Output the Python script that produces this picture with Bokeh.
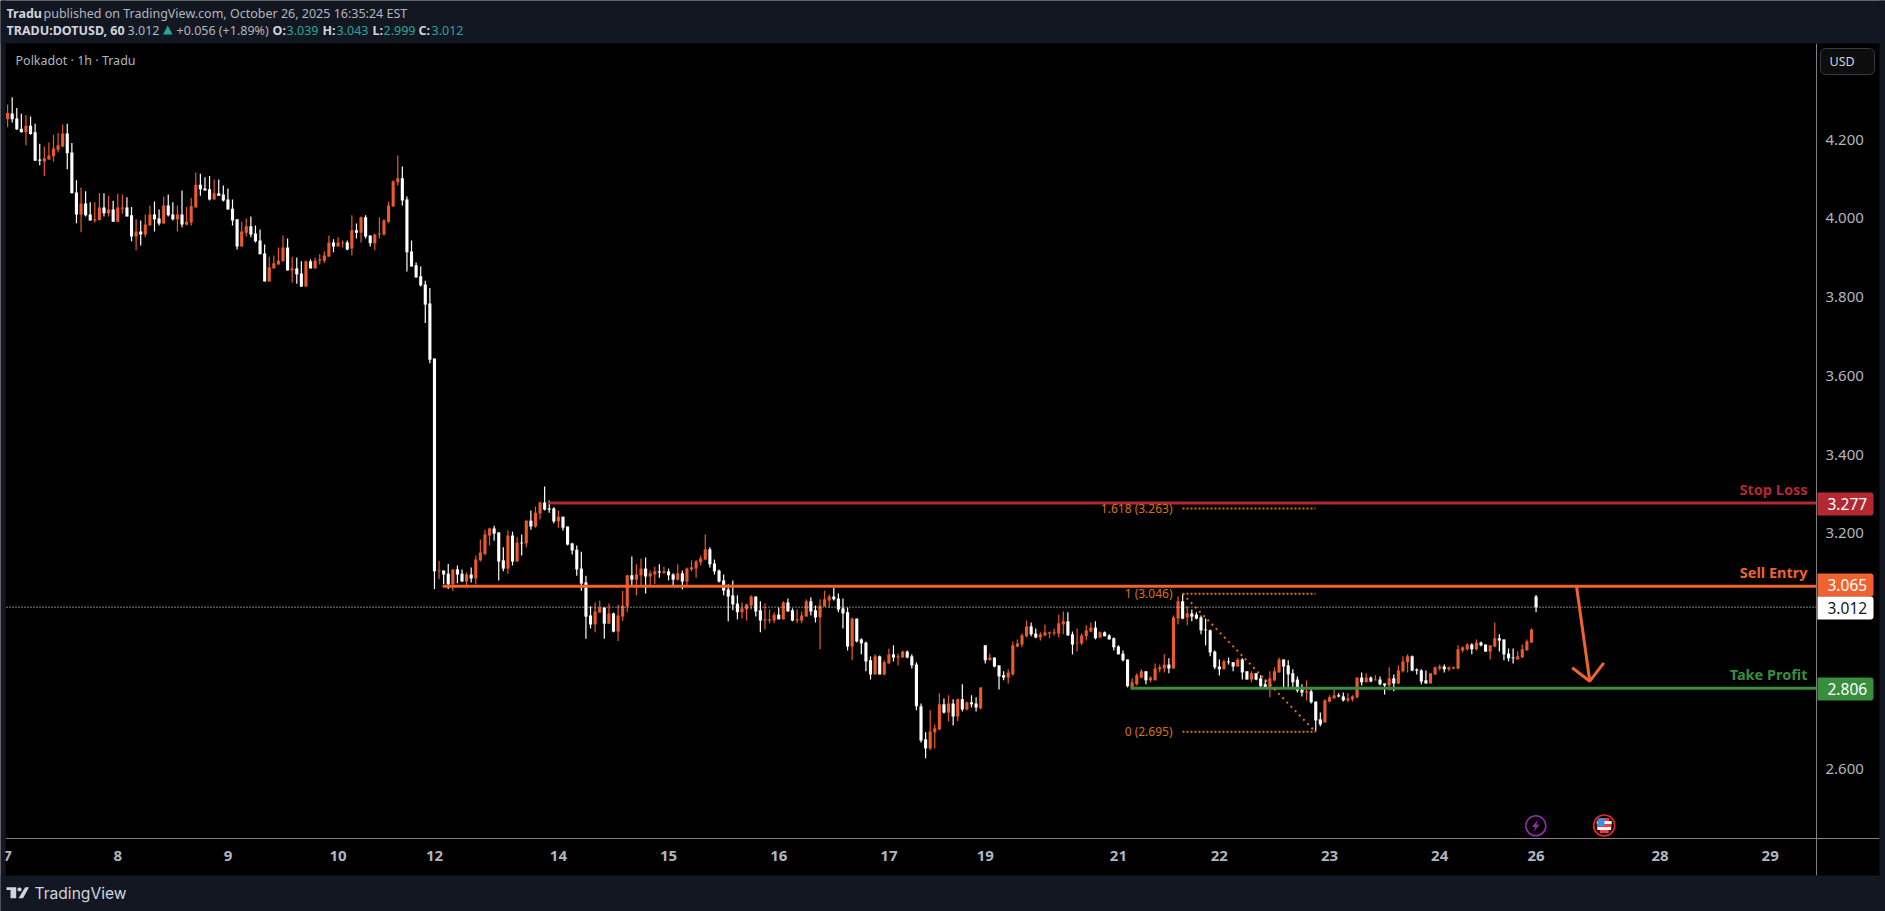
from bokeh.embed import file_html
from bokeh.resources import INLINE
from bokeh.plotting import figure
from bokeh.models import (ColumnDataSource, LinearAxis, FixedTicker, Range1d, Label, BoxAnnotation,
                          PolyAnnotation, NumeralTickFormatter)

opens = [
4.252,4.267,4.254,4.228,4.219,4.236,4.219,4.150,4.145,4.150,
4.158,4.175,4.183,4.216,4.168,4.066,4.010,4.038,4.010,3.995,
3.996,4.028,4.013,4.023,3.992,4.025,4.028,4.008,3.954,3.967,
3.959,3.982,4.010,4.000,3.987,4.033,4.010,3.998,4.010,3.985,
3.990,4.028,4.086,4.076,4.074,4.048,4.064,4.061,4.048,4.025,
3.998,3.929,3.964,3.980,3.962,3.944,3.911,3.840,3.873,3.883,
3.891,3.926,3.868,3.873,3.860,3.827,3.891,3.873,3.893,3.893,
3.903,3.939,3.929,3.937,3.939,3.924,3.970,3.964,4.003,3.957,
3.937,3.959,3.959,3.992,4.031,4.092,4.102,4.048,3.916,3.881,
3.853,3.832,3.784,3.644,3.103,3.105,3.097,3.070,3.108,3.097,
3.077,3.095,3.085,3.131,3.147,3.194,3.212,3.202,3.131,3.110,
3.194,3.128,3.176,3.174,3.232,3.217,3.250,3.278,3.263,3.263,
3.230,3.242,3.217,3.174,3.158,3.110,3.075,2.991,2.968,2.998,
3.011,2.970,2.996,2.950,2.988,3.014,3.093,3.082,3.093,3.110,
3.090,3.095,3.103,3.098,3.103,3.095,3.082,3.098,3.077,3.108,
3.110,3.126,3.133,3.159,3.123,3.105,3.080,3.057,3.042,3.021,
2.999,3.006,3.016,3.039,3.004,2.978,2.978,2.978,2.993,2.981,
3.024,3.004,2.978,2.978,2.988,3.027,3.004,2.986,3.014,3.029,
3.039,3.034,3.009,2.999,2.912,2.983,2.930,2.922,2.877,2.841,
2.887,2.841,2.869,2.892,2.884,2.884,2.899,2.887,2.866,2.760,
2.676,2.653,2.694,2.701,2.765,2.744,2.767,2.734,2.778,2.752,
2.770,2.767,2.755,2.915,2.877,2.884,2.864,2.839,2.833,2.841,
2.912,2.917,2.938,2.963,2.945,2.935,2.940,2.945,2.945,2.945,
2.968,2.976,2.943,2.920,2.920,2.938,2.950,2.960,2.935,2.948,
2.940,2.933,2.912,2.894,2.879,2.808,2.816,2.833,2.849,2.826,
2.826,2.854,2.856,2.866,2.856,2.983,3.027,2.986,2.996,2.993,
2.986,2.955,2.953,2.899,2.861,2.854,2.874,2.872,2.861,2.879,
2.849,2.828,2.844,2.831,2.816,2.806,2.826,2.846,2.879,2.864,
2.844,2.828,2.803,2.795,2.798,2.772,2.727,2.719,2.772,2.780,
2.788,2.785,2.775,2.778,2.783,2.833,2.821,2.833,2.826,2.828,
2.818,2.813,2.831,2.818,2.849,2.872,2.887,2.854,2.851,2.826,
2.818,2.841,2.856,2.861,2.854,2.856,2.856,2.902,2.905,2.917,
2.905,2.922,2.917,2.899,2.912,2.933,2.930,2.894,2.884,2.879,2.884,2.902,2.922,3.039]
highs = [
4.290,4.308,4.281,4.266,4.263,4.259,4.241,4.190,4.183,4.193,
4.213,4.217,4.239,4.241,4.192,4.097,4.079,4.069,4.041,4.041,
4.065,4.064,4.058,4.045,4.063,4.061,4.054,4.029,3.998,3.995,
4.010,4.033,4.043,4.023,4.056,4.061,4.041,4.033,4.071,4.029,
4.053,4.117,4.114,4.105,4.108,4.099,4.099,4.084,4.076,4.048,
3.998,3.992,4.000,4.005,3.982,3.972,3.934,3.903,3.906,3.926,
3.957,3.949,3.903,3.901,3.891,3.893,3.896,3.901,3.909,3.917,
3.957,3.947,3.952,3.944,3.944,4.008,3.987,4.005,4.008,3.957,
3.961,4.003,3.998,4.043,4.097,4.160,4.132,4.056,3.944,3.888,
3.878,3.842,3.823,3.644,3.130,3.105,3.122,3.108,3.118,3.108,
3.100,3.113,3.143,3.184,3.209,3.214,3.219,3.202,3.164,3.207,
3.204,3.191,3.197,3.232,3.258,3.268,3.280,3.319,3.283,3.266,
3.258,3.242,3.217,3.176,3.169,3.153,3.092,3.014,3.024,3.029,
3.011,3.021,2.998,3.018,3.053,3.093,3.141,3.121,3.136,3.138,
3.105,3.115,3.121,3.115,3.110,3.098,3.121,3.105,3.113,3.131,
3.132,3.143,3.197,3.164,3.133,3.108,3.095,3.070,3.080,3.042,
3.024,3.021,3.042,3.039,3.027,3.021,3.006,2.999,3.011,3.027,
3.034,3.009,3.006,3.001,3.032,3.037,3.016,3.032,3.054,3.044,
3.062,3.047,3.034,3.011,2.986,2.983,2.933,2.925,2.887,2.892,
2.889,2.877,2.907,2.915,2.894,2.902,2.902,2.892,2.872,2.767,
2.694,2.750,2.714,2.793,2.780,2.788,2.778,2.780,2.816,2.772,
2.788,2.783,2.808,2.915,2.894,2.884,2.864,2.849,2.854,2.925,
2.930,2.945,2.978,2.973,2.958,2.948,2.968,2.950,2.958,2.993,
3.001,2.999,2.950,2.958,2.945,2.966,2.973,2.976,2.950,2.950,
2.943,2.935,2.915,2.902,2.879,2.831,2.844,2.854,2.849,2.836,
2.869,2.866,2.892,2.882,2.991,3.039,3.044,3.014,3.006,2.999,
2.991,2.983,2.955,2.902,2.879,2.879,2.884,2.872,2.882,2.882,
2.849,2.849,2.844,2.839,2.828,2.849,2.859,2.884,2.879,2.877,
2.854,2.836,2.816,2.826,2.808,2.772,2.744,2.778,2.788,2.803,
2.793,2.795,2.793,2.788,2.833,2.846,2.844,2.836,2.839,2.836,
2.818,2.859,2.841,2.864,2.887,2.892,2.889,2.856,2.854,2.851,
2.844,2.861,2.866,2.866,2.861,2.861,2.915,2.912,2.920,2.920,
2.930,2.925,2.917,2.915,2.973,2.943,2.930,2.907,2.907,2.899,2.917,2.930,2.958,3.043]
lows = [
4.232,4.244,4.225,4.219,4.186,4.213,4.147,4.135,4.108,4.149,
4.145,4.168,4.181,4.125,4.064,3.988,3.965,4.005,3.995,3.989,
3.995,4.005,4.005,3.992,3.991,4.012,4.005,3.942,3.919,3.931,
3.953,3.982,3.967,3.982,3.987,4.005,3.995,3.967,3.978,3.982,
3.982,4.028,4.058,4.071,4.046,4.048,4.058,4.043,4.023,3.982,
3.921,3.929,3.954,3.952,3.939,3.909,3.840,3.840,3.873,3.883,
3.891,3.868,3.837,3.834,3.826,3.827,3.873,3.873,3.883,3.887,
3.903,3.914,3.929,3.926,3.919,3.906,3.949,3.939,3.949,3.929,
3.919,3.949,3.957,3.988,4.029,4.084,4.033,3.865,3.878,3.850,
3.827,3.734,3.632,3.058,3.083,3.070,3.058,3.053,3.073,3.077,
3.067,3.075,3.070,3.128,3.143,3.169,3.181,3.080,3.103,3.097,
3.118,3.128,3.143,3.164,3.209,3.214,3.235,3.258,3.252,3.225,
3.214,3.207,3.169,3.146,3.092,3.054,2.932,2.958,2.948,2.998,
2.932,2.970,2.948,2.926,2.977,2.999,3.067,3.042,3.067,3.047,
3.067,3.071,3.087,3.098,3.080,3.065,3.080,3.057,3.067,3.103,
3.087,3.118,3.131,3.113,3.095,3.075,3.042,2.976,3.004,2.981,
2.983,2.978,3.006,2.988,2.948,2.955,2.971,2.971,2.981,2.981,
3.001,2.976,2.971,2.971,2.988,2.991,2.973,2.905,3.013,3.011,
3.029,2.999,2.958,2.902,2.877,2.922,2.892,2.849,2.828,2.841,
2.841,2.838,2.869,2.874,2.864,2.884,2.882,2.856,2.750,2.668,
2.628,2.648,2.653,2.699,2.742,2.722,2.711,2.722,2.747,2.750,
2.757,2.747,2.752,2.869,2.877,2.859,2.803,2.826,2.818,2.838,
2.910,2.910,2.935,2.938,2.933,2.927,2.938,2.933,2.940,2.935,
2.943,2.940,2.892,2.899,2.915,2.927,2.948,2.930,2.933,2.938,
2.930,2.902,2.892,2.874,2.808,2.806,2.813,2.831,2.816,2.821,
2.826,2.846,2.846,2.844,2.856,2.968,2.981,2.966,2.976,2.981,
2.943,2.915,2.887,2.854,2.838,2.854,2.866,2.849,2.861,2.828,
2.828,2.821,2.826,2.808,2.806,2.783,2.823,2.846,2.808,2.808,
2.808,2.795,2.785,2.775,2.767,2.696,2.709,2.719,2.770,2.780,
2.783,2.772,2.770,2.772,2.780,2.813,2.821,2.821,2.826,2.813,
2.790,2.800,2.798,2.816,2.846,2.846,2.849,2.841,2.816,2.818,
2.818,2.841,2.851,2.846,2.849,2.854,2.854,2.897,2.902,2.892,
2.902,2.912,2.899,2.879,2.910,2.899,2.877,2.874,2.869,2.879,2.884,2.902,2.922,2.999]
closes = [
4.268,4.252,4.227,4.219,4.236,4.215,4.147,4.147,4.153,4.160,
4.178,4.186,4.216,4.166,4.064,4.010,4.038,4.008,3.995,3.998,
4.028,4.013,4.023,3.992,4.028,4.028,4.005,3.954,3.967,3.959,
3.985,4.010,3.998,3.987,4.033,4.008,3.998,4.010,3.985,3.992,
4.031,4.086,4.074,4.071,4.048,4.064,4.058,4.046,4.023,3.995,
3.929,3.967,3.980,3.959,3.942,3.909,3.840,3.876,3.886,3.893,
3.926,3.868,3.873,3.858,3.827,3.891,3.873,3.893,3.896,3.906,
3.939,3.929,3.939,3.939,3.921,3.970,3.964,4.003,3.954,3.937,
3.959,3.962,3.995,4.033,4.094,4.102,4.046,3.914,3.878,3.850,
3.830,3.781,3.641,3.103,3.105,3.095,3.070,3.108,3.095,3.077,
3.095,3.085,3.133,3.151,3.197,3.212,3.199,3.128,3.110,3.194,
3.128,3.176,3.174,3.232,3.217,3.252,3.278,3.260,3.260,3.230,
3.242,3.214,3.171,3.156,3.108,3.072,2.988,2.968,3.001,3.011,
2.970,2.996,2.950,2.991,3.016,3.093,3.082,3.095,3.110,3.090,
3.098,3.103,3.100,3.103,3.093,3.082,3.098,3.077,3.110,3.113,
3.128,3.136,3.159,3.121,3.103,3.077,3.054,3.039,3.019,2.999,
3.009,3.019,3.039,3.001,2.978,2.981,2.981,2.993,2.981,3.024,
3.001,2.978,2.981,2.991,3.027,3.001,2.986,3.016,3.032,3.039,
3.032,3.006,2.996,2.912,2.983,2.925,2.920,2.874,2.841,2.887,
2.841,2.872,2.892,2.884,2.887,2.899,2.884,2.864,2.760,2.673,
2.653,2.696,2.704,2.765,2.744,2.767,2.734,2.778,2.752,2.770,
2.765,2.757,2.808,2.877,2.884,2.861,2.836,2.833,2.846,2.915,
2.920,2.940,2.963,2.943,2.935,2.943,2.948,2.948,2.948,2.971,
2.976,2.940,2.917,2.922,2.940,2.953,2.960,2.933,2.948,2.938,
2.930,2.910,2.892,2.877,2.811,2.821,2.839,2.849,2.826,2.833,
2.856,2.859,2.866,2.856,2.986,3.027,2.983,2.996,2.988,2.983,
2.953,2.953,2.897,2.859,2.854,2.874,2.872,2.861,2.879,2.846,
2.828,2.844,2.828,2.811,2.806,2.831,2.849,2.879,2.861,2.841,
2.821,2.800,2.795,2.798,2.770,2.724,2.714,2.775,2.783,2.788,
2.785,2.775,2.780,2.785,2.833,2.821,2.833,2.823,2.828,2.816,
2.813,2.831,2.818,2.851,2.874,2.887,2.851,2.851,2.823,2.818,
2.844,2.859,2.861,2.854,2.859,2.859,2.905,2.910,2.917,2.905,
2.922,2.915,2.899,2.915,2.933,2.927,2.892,2.882,2.882,2.887,2.905,2.925,2.955,3.012]

price_ticks = [4.2, 4.0, 3.8, 3.6, 3.4, 3.2, 2.6]
day_labels = ["7", "8", "9", "10", "12", "14", "15", "16", "17", "19", "21", "22", "23", "24", "26", "28", "29"]
day_bars = [0, 24, 48, 72, 93, 120, 144, 168, 192, 213, 242, 264, 288, 312, 333, 360, 384]
stop_loss, sell_entry, take_profit, last_price = 3.277, 3.065, 2.806, 3.012
fib_levels = [("1.618 (3.263)", 3.263), ("1 (3.046)", 3.046), ("0 (2.695)", 2.695)]

BG = "#131722"
ORANGE = "#ea5a2b"
LINE_ORANGE = "#f0622f"
RED = "#b22833"
GREEN = "#388e3c"
FIB = "#d8720e"
GREY = "#b2b5be"
AXIS = "#7f7f7f"
TEAL = "#26a69a"
FONT = "Noto Sans"
W, H = 1885, 911


def bx(page_x):
    """page pixel -> bar index"""
    return (page_x - 7.1) / 4.59


def py(page_y):
    """page pixel -> price"""
    return 3.2 - (page_y - 532.7) / 393.4


p = figure(width=W, height=H, output_backend="svg", toolbar_location=None,
           x_range=Range1d(bx(0), bx(W)), y_range=Range1d(py(H), py(0)),
           x_axis_location=None, y_axis_location=None,
           min_border_left=0, min_border_top=0, min_border_right=0, min_border_bottom=0,
           background_fill_color="#000000", border_fill_color="#000000", outline_line_color=None)
p.grid.visible = False

# axes
yaxis = LinearAxis(ticker=FixedTicker(ticks=price_ticks), formatter=NumeralTickFormatter(format="0.000"),
                   fixed_location=bx(1816), bounds=(py(875), py(43)),
                   axis_line_color=AXIS, major_tick_line_color=None, minor_tick_line_color=None,
                   major_label_text_color=GREY, major_label_text_font=FONT, major_label_text_font_size="15px",
                   major_label_standoff=3)
p.add_layout(yaxis, "right")
xaxis = LinearAxis(ticker=FixedTicker(ticks=day_bars), fixed_location=py(838), bounds=(bx(5), bx(1879)),
                   major_label_overrides={b: t for b, t in zip(day_bars, day_labels)},
                   axis_line_color=AXIS, major_tick_line_color=None, minor_tick_line_color=None,
                   major_label_text_color=GREY, major_label_text_font=FONT, major_label_text_font_size="15px",
                   major_label_text_font_style="bold", major_label_standoff=6)
p.add_layout(xaxis, "below")


def box(l, r, t, b, color, level="overlay", **kw):
    a = BoxAnnotation(left=l, right=r, top=t, bottom=b, left_units="canvas", right_units="canvas",
                      top_units="canvas", bottom_units="canvas", fill_color=color, fill_alpha=1,
                      line_color=kw.pop("line_color", None), line_alpha=1, level=level, editable=False, **kw)
    p.add_layout(a)
    return a


def poly(xs, ys, color):
    p.add_layout(PolyAnnotation(xs=xs, ys=ys, xs_units="canvas", ys_units="canvas", fill_color=color, fill_alpha=1,
                                line_color=None, level="overlay", editable=False))


def text(x, y, s, color, size=12.5, align="left", style="normal", font=FONT):
    p.add_layout(Label(x=x, y=y, x_units="canvas", y_units="canvas", text=s, text_color=color, text_font=font,
                       text_font_size=f"{size}px", text_font_style=style, text_align=align,
                       text_baseline="middle", level="overlay"))


# outer panels
box(0, W, 0, 43, BG)
box(0, W, 875, H, BG)
box(0, 5, 0, H, BG)
box(1879, W, 0, H, BG)

# candles
idx = list(range(len(closes)))
cols = [ORANGE if c >= o else "#ffffff" for o, c in zip(opens, closes)]
src = ColumnDataSource(dict(i=idx, o=opens, h=highs, l=lows, c=closes, col=cols))
p.segment("i", "h", "i", "l", source=src, line_color="col", line_width=1.2)
p.vbar("i", width=0.68, top="c", bottom="o", source=src, fill_color="col", line_color=None)

# price level lines
p.line([bx(6), bx(1816)], [last_price, last_price], line_color="#ffffff", line_width=1, line_dash=[1, 2])
p.line([bx(548), bx(1816)], [stop_loss, stop_loss], line_color=RED, line_width=3)
p.line([bx(442), bx(1816)], [sell_entry, sell_entry], line_color=LINE_ORANGE, line_width=3)
p.line([bx(1130), bx(1816)], [take_profit, take_profit], line_color=GREEN, line_width=3)

# fib
for name, v in fib_levels:
    p.line([bx(1182), bx(1315)], [v, v], line_color=FIB, line_width=2, line_dash=[2, 2])
    text(1172, 532.7 - (v - 3.2) * 393.4, name, FIB, size=12, align="right")
p.line([bx(1182), bx(1315)], [fib_levels[1][1], fib_levels[2][1]], line_color=FIB, line_width=2, line_dash=[2, 4])

# arrow
p.line([bx(1576), bx(1589.3)], [sell_entry, py(680.7)], line_color=LINE_ORANGE, line_width=3)
p.line([bx(1571.7), bx(1589.3), bx(1603.3)], [py(667.3), py(680.7), py(662.3)], line_color=LINE_ORANGE, line_width=3)

# line captions
text(1807, 488.5, "Stop Loss", RED, size=14.5, align="right", style="bold")
text(1807, 571.5, "Sell Entry", LINE_ORANGE, size=14.5, align="right", style="bold")
text(1807, 673, "Take Profit", GREEN, size=14.5, align="right", style="bold")

# price tags
for top, bot, col, lab, tc in [(492, 515, RED, f"{stop_loss:.3f}", "#ffffff"),
                               (573, 596, LINE_ORANGE, f"{sell_entry:.3f}", "#ffffff"),
                               (596, 619, "#ffffff", f"{last_price:.3f}", "#131722"),
                               (677, 700, GREEN, f"{take_profit:.3f}", "#ffffff")]:
    box(1817, 1873, top, bot, col, border_radius=(0, 3, 3, 0))
    text(1827, (top + bot) / 2, lab, tc, size=15.5)

# USD button
box(1820, 1874, 48, 74, "#0d0d0d", line_color="#363a45", border_radius=5)
text(1829, 61, "USD", "#d1d4dc", size=12.5)

# event icons
p.scatter([bx(1535.3)], [py(825.3)], size=20, marker="circle", fill_color=None, line_color="#9c27b0", line_width=1.5)
p.patch([bx(v) for v in (1537.5, 1531.5, 1534.8, 1533, 1539, 1535.7)],
        [py(v) for v in (819, 826.5, 826.5, 831.5, 824, 824)], fill_color="#9c27b0", line_color=None)
p.scatter([bx(1603.7)], [py(825)], size=21, marker="circle", fill_color="#000000", line_color="#e0262f", line_width=1.7)
for y0, y1, hw, c in [(817.5, 820.5, 5, "#e5404a"), (820.5, 823.5, 7.5, "#f2f2f2"), (823.5, 826.5, 7.5, "#e5404a"),
                      (826.5, 829.5, 7, "#f2f2f2"), (829.5, 832.5, 4.5, "#e5404a")]:
    p.quad(left=bx(1603.7 - hw), right=bx(1603.7 + hw), top=py(y0), bottom=py(y1), fill_color=c, line_color=None)
p.quad(left=bx(1597), right=bx(1604), top=py(818), bottom=py(825.5), fill_color="#3f8fe0", line_color=None)

# header
text(6, 12.7, "Tradu", "#d1d4dc", size=12.5, style="bold")
text(43, 12.7, "published on TradingView.com, October 26, 2025 16:35:24 EST", GREY, size=12.5)
text(6, 29.5, "TRADU:DOTUSD, 60", "#d1d4dc", size=12.5, style="bold")
text(127, 29.5, "3.012", GREY, size=12.5)
text(176, 29.5, "+0.056 (+1.89%)", GREY, size=12.5)
poly([162.5, 167.3, 172], [34, 25, 34], TEAL)
for lx, lab, vx, val in [(272, "O:", 286, "3.039"), (322, "H:", 336, "3.043"), (372, "L:", 383, "2.999"), (418, "C:", 431, "3.012")]:
    text(lx, 29.5, lab, "#d1d4dc", size=12.5, style="bold")
    text(vx, 29.5, val, TEAL, size=12.5)
text(15, 60, "Polkadot · 1h · Tradu", GREY, size=12.5)

# TradingView logo
LOGO = "#d1d4dc"
poly([6, 15.7, 15.7, 10, 10, 6], [886.7, 886.7, 897.7, 897.7, 889.5, 889.5], LOGO)
poly([24.7, 28.5, 22.5, 18], [886.7, 886.7, 897.7, 897.7], LOGO)
poly([17, 19, 21, 21, 19, 17], [888, 886.7, 888, 890, 891, 890], LOGO)
text(34, 892.7, "TradingView", LOGO, size=15.6, font="Inter", style="normal")

open("out.html", "w").write(file_html(p, INLINE))
